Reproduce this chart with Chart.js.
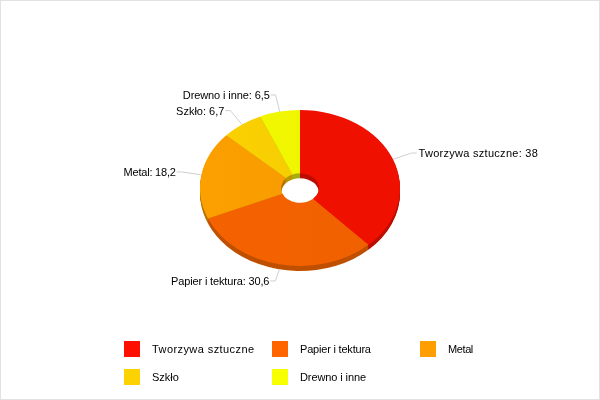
<!DOCTYPE html>
<html><head><meta charset="utf-8">
<style>html,body{margin:0;padding:0;background:#fff}canvas{display:block}#w{width:600px;height:400px;position:relative}</style>
<script src="https://cdn.jsdelivr.net/npm/chart.js@4"></script>
</head><body><div id="w"><canvas id="c" width="600" height="400"></canvas></div>
<script>
const categories = ['Tworzywa sztuczne','Papier i tektura','Metal','Szkło','Drewno i inne'];
const values = [38,30.6,18.2,6.7,6.5];
const labelTexts = ['Tworzywa sztuczne: 38','Papier i tektura: 30,6','Metal: 18,2','Szkło: 6,7','Drewno i inne: 6,5'];
const legendColors = ['#ff0f00','#ff6600','#ff9e01','#fcd202','#f8ff01'];
const faceLeft = ['#f21000','#f56200','#fca000','#fcd202','#f2f800'];
const faceRight = ['#ef1000','#f06000','#f39800','#f0c800','#eef400'];
const sideColors = ['#bc0d00','#bf5000','#b87200','#b89800','#a8ac10'];
const labelSpacing = [0.28,-0.15,-0.2,0,-0.1];
const legendSpacing = [0.42,-0.2,-0.4,0,-0.1];

const SQ = 0.78, DEPTH = 5, FONT = '11px "Liberation Sans", Arial, sans-serif';
const LEG_X = [124,272,420], LEG_Y = [341,369];

function squash(ctx, a){ ctx.translate(a.x,a.y); ctx.scale(1,SQ); ctx.translate(-a.x,-a.y); }
function ring(ctx,p,k,i){
  ctx.beginPath();
  ctx.arc(p.x,p.y+k/SQ,p.outerRadius,p.startAngle,p.endAngle);
  ctx.arc(p.x,p.y+k/SQ,p.innerRadius,p.endAngle,p.startAngle,true);
  ctx.closePath();
  ctx.fillStyle = sideColors[i];
  ctx.fill();
}
const props = ['x','y','startAngle','endAngle','innerRadius','outerRadius'];

const pie3d = {
  id:'pie3d',
  beforeDatasetsDraw(chart){
    const ctx = chart.ctx, arcs = chart.getDatasetMeta(0).data;
    ctx.save();
    squash(ctx,arcs[0].getProps(props));
    for(let k=DEPTH;k>=1;k--) arcs.forEach((arc,i)=>ring(ctx,arc.getProps(props),k,i));
  },
  afterDatasetsDraw(chart){
    const ctx = chart.ctx; ctx.restore();
    const arcs = chart.getDatasetMeta(0).data;
    ctx.save();
    ctx.font = FONT; ctx.textBaseline='middle';
    arcs.forEach((arc,i)=>{
      const p = arc.getProps(props);
      const m = (p.startAngle+p.endAngle)/2, ca=Math.cos(m), sa=Math.sin(m);
      const r = p.outerRadius, ry = r*SQ;
      const sx = p.x+r*ca, sy = p.y+ry*sa+(sa>0?DEPTH:0);
      const ex = p.x+(r+20)*ca, ey = p.y+(ry+17)*sa;
      const right = ca>0, hx = ex+(right?5:-5);
      ctx.strokeStyle='#cfcfcf'; ctx.lineWidth=1;
      ctx.beginPath(); ctx.moveTo(sx,sy); ctx.lineTo(ex,ey); ctx.lineTo(hx,ey); ctx.stroke();
      ctx.fillStyle='#000'; ctx.textAlign = right?'left':'right';
      ctx.letterSpacing = labelSpacing[i]+'px';
      ctx.fillText(labelTexts[i], hx+(right?2:-1), ey+1);
    });
    ctx.textAlign='left';
    categories.forEach((name,i)=>{
      const x=LEG_X[i%3], y=LEG_Y[Math.floor(i/3)];
      ctx.fillStyle=legendColors[i]; ctx.fillRect(x,y,16,16);
      ctx.fillStyle='#000';
      ctx.letterSpacing = legendSpacing[i]+'px';
      ctx.fillText(name,x+28,y+9);
    });
    ctx.letterSpacing='0px';
    ctx.strokeStyle='#e2e2e2'; ctx.lineWidth=1; ctx.strokeRect(0.5,0.5,599,399);
    ctx.restore();
  }
};

new Chart(document.getElementById('c'),{
  type:'doughnut',
  data:{labels:categories,datasets:[{data:values,borderWidth:0,clip:false,
    backgroundColor(c){
      const g=c.chart.ctx.createLinearGradient(200,0,400,0);
      g.addColorStop(0,faceLeft[c.dataIndex]); g.addColorStop(1,faceRight[c.dataIndex]); return g;
    }}]},
  options:{responsive:false,animation:false,cutout:'19%',
    layout:{padding:{left:200,right:200,top:88,bottom:112}},
    plugins:{legend:{display:false},tooltip:{enabled:false}}},
  plugins:[pie3d]
});
</script></body></html>
